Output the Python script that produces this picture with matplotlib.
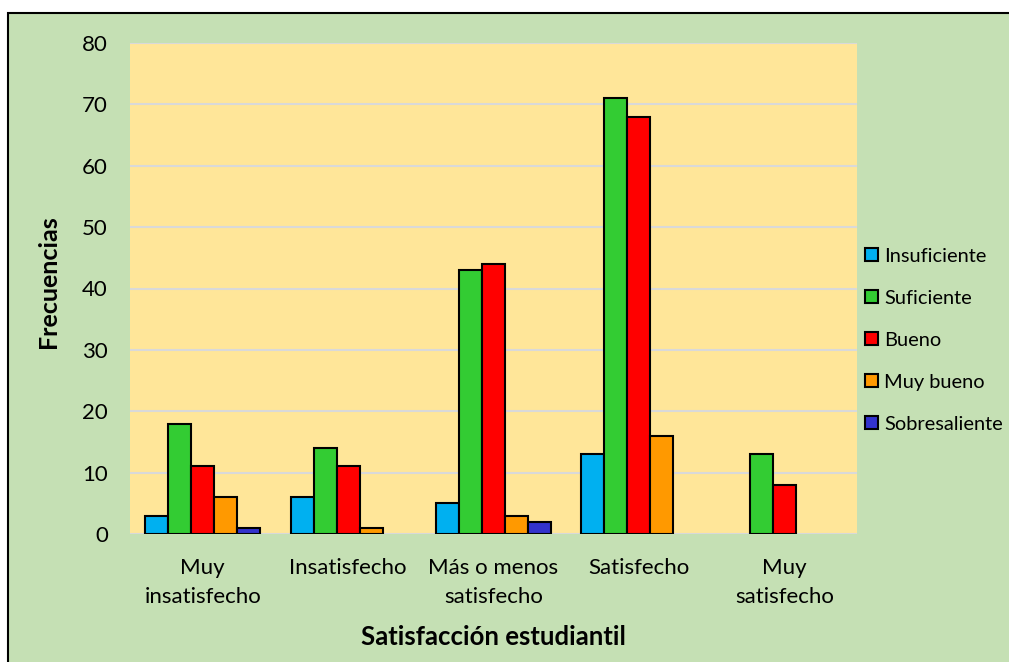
import numpy as np
import matplotlib
matplotlib.use("Agg")
import matplotlib.pyplot as plt
from matplotlib.patches import Rectangle

plt.rcParams["font.family"] = ["Lato", "DejaVu Sans"]

# data
categories = ["Muy\ninsatisfecho", "Insatisfecho", "Más o menos\nsatisfecho",
              "Satisfecho", "Muy\nsatisfecho"]
series = ["Insuficiente", "Suficiente", "Bueno", "Muy bueno", "Sobresaliente"]
insuficiente = [3, 6, 5, 13, 0]
suficiente = [18, 14, 43, 71, 13]
bueno = [11, 11, 44, 68, 8]
muy_bueno = [6, 1, 3, 16, 0]
sobresaliente = [1, 0, 2, 0, 0]
colors = ["#00B0F0", "#33CC33", "#FF0000", "#FF9900", "#3333CC"]

values = [insuficiente, suficiente, bueno, muy_bueno, sobresaliente]

fig = plt.figure(figsize=(10.09, 6.62), dpi=100)
fig.patch.set_facecolor("white")
# green chart area with black border
fig.patches.append(Rectangle((8 / 1009, -0.01), 1.0, 1 - 13 / 662 + 0.01,
                             transform=fig.transFigure, facecolor="#C5E0B4",
                             edgecolor="black", linewidth=1.5, zorder=-1))

ax = fig.add_axes([130 / 1009, 1 - 534 / 662, 727 / 1009, 491 / 662])
ax.set_facecolor("#FFE699")

x = np.arange(len(categories))
w = 23 / 145.4
for i, (name, vals, c) in enumerate(zip(series, values, colors)):
    xs = x + (i - 2) * w
    keep = [j for j, v in enumerate(vals) if v > 0]
    ax.bar(xs[keep], [vals[j] for j in keep], width=w, color=c,
           edgecolor="black", linewidth=1.5, label=name, zorder=3)

ax.set_xlim(-0.5, 4.5)
ax.set_ylim(0, 80)
ax.set_yticks(range(0, 81, 10))
ax.yaxis.grid(True, color="#D9D9D9", linewidth=1.5, zorder=0)
ax.set_axisbelow(True)
for s in ax.spines.values():
    s.set_visible(False)
ax.tick_params(length=0, labelsize=16, pad=16)
ax.tick_params(axis="x", pad=17)
ax.set_xticks(x)
ax.set_xticklabels(categories, fontsize=16, linespacing=1.56)

ax.set_ylabel("Frecuencias", fontsize=18, fontweight="bold")
ax.yaxis.set_label_coords(-0.096, 0.513)
ax.set_xlabel("Satisfacción estudiantil", fontsize=18.5, fontweight="bold",
              labelpad=13)

ax.legend(loc="center left", bbox_to_anchor=(1.0, 0.395), frameon=False,
          fontsize=14.4, handlelength=0.65, handleheight=0.65,
          handletextpad=0.3, labelspacing=1.25, borderaxespad=0.0)

fig.savefig("out.png", dpi=100)
